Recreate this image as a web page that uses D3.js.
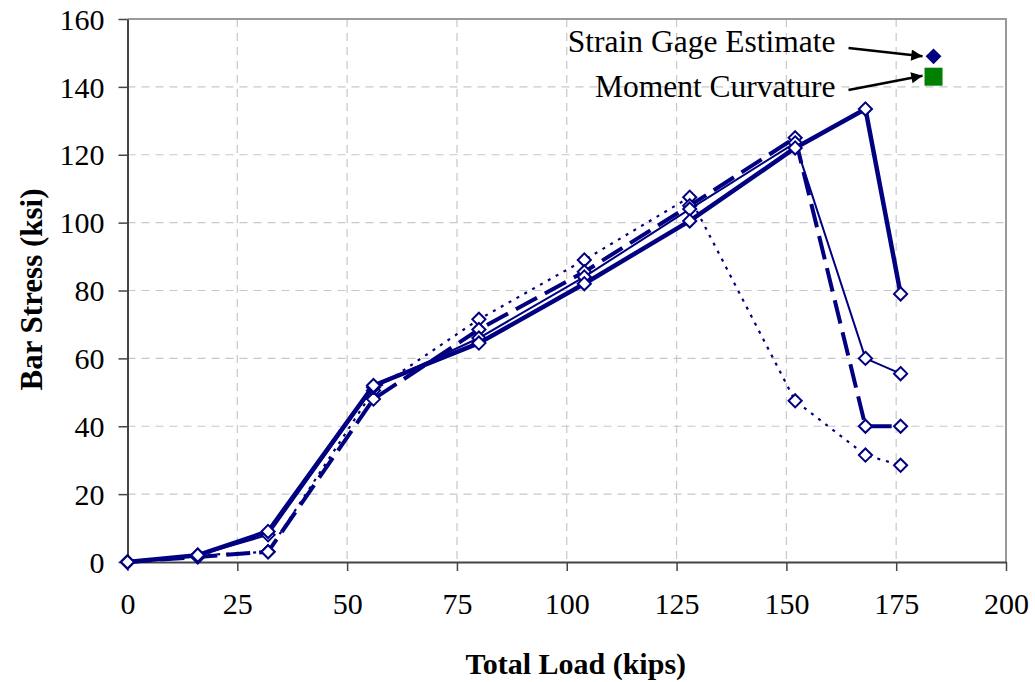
<!DOCTYPE html>
<html>
<head>
<meta charset="utf-8">
<script src="https://cdn.jsdelivr.net/npm/d3@7"></script>
<style>
  body { margin: 0; background: #fff; }
  text { font-family: "Liberation Serif", "Times New Roman", serif; }
</style>
</head>
<body>
<div id="chart"></div>
<script>
// Data
var loads = [0, 16, 32, 56, 80, 104, 128, 152, 168, 176];
var thickSolid = [0, 2, 9, 52, 64.5, 82, 100.5, 122, 133.5, 79];
var thinSolid = [0, 2, 8, 51.5, 66, 84, 104, 123.5, 60, 55.5];
var dashed = [0, 1.5, 3, 48, 68.5, 85.5, 105, 125, 40, 40];
var dotted = [0, 2, 3, 50.5, 71.5, 89, 107.5, 47.5, 31.5, 28.5];
var xTicks = [0, 25, 50, 75, 100, 125, 150, 175, 200];
var yTicks = [0, 20, 40, 60, 80, 100, 120, 140, 160];
var strainGage = { x: 183.5, y: 149 };
var momentCurv = { x: 183.5, y: 143 };

var margin = { top: 19, right: 29, bottom: 120, left: 127.5 },
    width = 1035 - margin.left - margin.right,
    height = 682 - margin.top - margin.bottom;

var svg = d3.select("#chart")
    .append("svg")
    .attr("width", 1035)
    .attr("height", 682)
    .append("g")
    .attr("transform", "translate(" + margin.left + "," + margin.top + ")");

var xScale = d3.scaleLinear().domain([0, 200]).range([0, width]);
var yScale = d3.scaleLinear().domain([0, 160]).range([height, 0]);

// grid lines
svg.append("g")
    .selectAll("line")
    .data(xTicks.slice(1, -1))
    .enter().append("line")
    .attr("x1", d => xScale(d)).attr("x2", d => xScale(d))
    .attr("y1", 0).attr("y2", height)
    .attr("stroke", "#c8c8c8").attr("stroke-width", 1.2)
    .attr("stroke-dasharray", "8,6");
svg.append("g")
    .selectAll("line")
    .data(yTicks.slice(1, -1))
    .enter().append("line")
    .attr("x1", 0).attr("x2", width)
    .attr("y1", d => yScale(d)).attr("y2", d => yScale(d))
    .attr("stroke", "#c8c8c8").attr("stroke-width", 1.2)
    .attr("stroke-dasharray", "8,6");

// top and right border
svg.append("path")
    .attr("d", "M0,0H" + width + "V" + height)
    .attr("fill", "none").attr("stroke", "#9a9a9a").attr("stroke-width", 2);

// axes
var xAxis = svg.append("g")
    .attr("transform", "translate(0," + height + ")")
    .call(d3.axisBottom(xScale).tickValues(xTicks).tickSize(9).tickSizeOuter(0).tickPadding(22));
var yAxis = svg.append("g")
    .call(d3.axisLeft(yScale).tickValues(yTicks).tickSize(9).tickSizeOuter(0).tickPadding(14));
[xAxis, yAxis].forEach(function (a) {
    a.select(".domain").attr("stroke", "#444").attr("stroke-width", 2);
    a.selectAll(".tick line").attr("stroke", "#444").attr("stroke-width", 1.5);
    a.selectAll(".tick text")
        .style("font-family", "'Liberation Serif', 'Times New Roman', serif")
        .attr("font-size", 30).attr("fill", "#000");
});
yAxis.selectAll(".tick text").attr("dy", "0.34em");

// axis titles
svg.append("text")
    .attr("x", width / 2 + 9).attr("y", height + 112)
    .attr("text-anchor", "middle")
    .attr("font-size", 30).attr("font-weight", "bold")
    .text("Total Load (kips)");
svg.append("text")
    .attr("transform", "translate(-85.5," + (height / 2 - 1) + ") rotate(-90)")
    .attr("text-anchor", "middle")
    .attr("font-size", 31).attr("font-weight", "bold")
    .text("Bar Stress (ksi)");

// series
var navy = "#000080";
var series = [
    { values: dotted, width: 2.2, dash: "3,6" },
    { values: dashed, width: 4, dash: "24,9" },
    { values: thinSolid, width: 2, dash: null },
    { values: thickSolid, width: 4.5, dash: null }
];

var line = d3.line()
    .x(function (d) { return xScale(d.x); })
    .y(function (d) { return yScale(d.y); });

var diamond = d3.symbol().type(d3.symbolDiamond2).size(110);

series.forEach(function (s) {
    var pts = loads.map(function (x, i) { return { x: x, y: s.values[i] }; });
    svg.append("path")
        .datum(pts)
        .attr("fill", "none")
        .attr("stroke", navy)
        .attr("stroke-width", s.width)
        .attr("stroke-dasharray", s.dash)
        .attr("stroke-linejoin", "round")
        .attr("d", line);
    svg.append("g")
        .selectAll("path")
        .data(pts)
        .enter().append("path")
        .attr("transform", d => "translate(" + xScale(d.x) + "," + yScale(d.y) + ")")
        .attr("d", diamond)
        .attr("fill", "#fff")
        .attr("stroke", navy)
        .attr("stroke-width", 2);
});

// annotation markers
svg.append("path")
    .attr("transform", "translate(" + xScale(strainGage.x) + "," + yScale(strainGage.y) + ")")
    .attr("d", d3.symbol().type(d3.symbolDiamond2).size(160))
    .attr("fill", navy);
svg.append("rect")
    .attr("x", xScale(momentCurv.x) - 9).attr("y", yScale(momentCurv.y) - 9)
    .attr("width", 18).attr("height", 18)
    .attr("fill", "#008000");

// arrow marker
svg.append("defs").append("marker")
    .attr("id", "arrow")
    .attr("viewBox", "0 0 10 10")
    .attr("refX", 10).attr("refY", 5)
    .attr("markerWidth", 5.5).attr("markerHeight", 4.5)
    .attr("markerUnits", "strokeWidth")
    .attr("orient", "auto")
    .append("path").attr("d", "M0,0L10,5L0,10Z").attr("fill", "#000");

var labels = [
    { text: "Strain Gage Estimate", pt: strainGage, ty: 33, sy: -4, off: 0 },
    { text: "Moment Curvature", pt: momentCurv, ty: 78, sy: -7, off: -1 }
];
labels.forEach(function (l) {
    svg.append("text")
        .attr("x", 708).attr("y", l.ty)
        .attr("text-anchor", "end")
        .attr("font-size", 31.5)
        .text(l.text);
    svg.append("line")
        .attr("x1", 721).attr("y1", l.ty + l.sy)
        .attr("x2", xScale(l.pt.x) - 11).attr("y2", yScale(l.pt.y) + l.off)
        .attr("stroke", "#000").attr("stroke-width", 2.5)
        .attr("marker-end", "url(#arrow)");
});
</script>
</body>
</html>
